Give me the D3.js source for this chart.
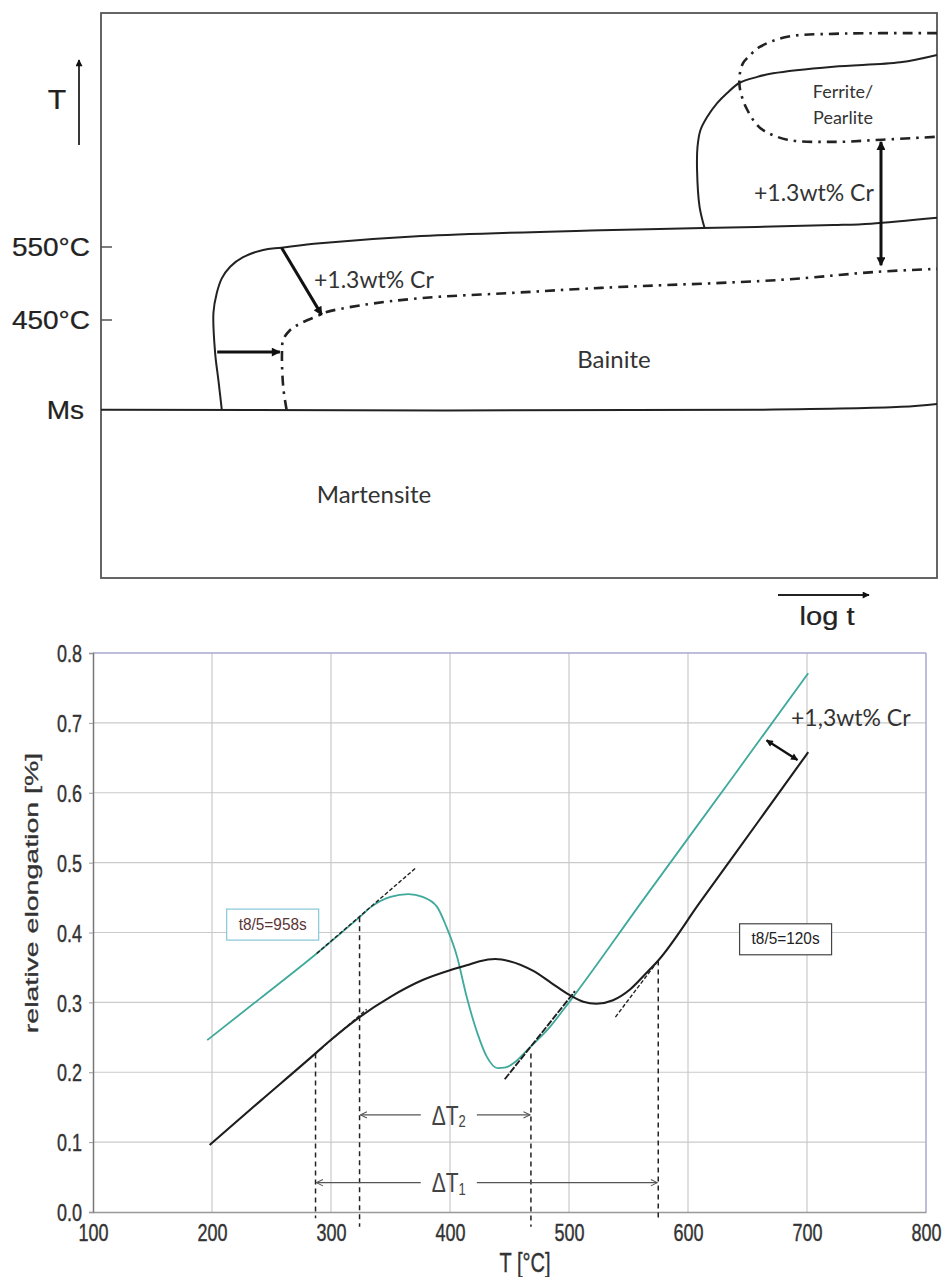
<!DOCTYPE html>
<html><head><meta charset="utf-8">
<script src="https://cdn.jsdelivr.net/npm/d3@7"></script>
<style>body{margin:0;background:#fff}</style>
</head><body>
<svg id="c" width="942" height="1277"></svg>
<script>
// ================= DATA =================
// --- Top: schematic CCT diagram, points are [log t (arbitrary 0-100), T (°C)] ---
const cctTempTicks = [550, 450];
const cctTempLabels = ["550°C", "450°C"];
const msTemp = 327;
const bainiteStart = [[14.45,327],[14.05,367],[13.65,405],[13.45,460],[13.85,487],[14.45,507],[15.45,523],[17.0,536],[19.4,546],[21.6,549],[26.2,555],[38.3,565],[59.8,573],[72.0,576],[87.6,580],[92.1,582],[100,590]];
const ferriteStart = [[72.2,576],[71.6,605],[71.3,655],[71.35,687],[71.7,710],[72.5,728],[73.7,747],[74.9,761],[76.4,775],[78.5,783],[80.4,788],[87.6,797],[95.6,803],[100,813]];
const bainiteStartCr = [[22.2,327],[21.8,358],[21.65,405],[21.8,423],[22.6,436],[23.8,445],[26.2,457],[26.7,460],[31.0,470],[38.3,480],[49.0,487],[59.8,494],[81.3,505],[92.8,516],[100,520]];
const ferriteStartCr = [[100,843],[87.6,842],[82.1,838],[78.8,824],[77.4,810],[76.8,802],[76.4,786],[76.4,769],[76.8,751],[77.3,738],[78.2,721],[79.2,710],[82.1,697],[87.6,694],[93.5,697],[100,701]];
const msLine = [[0,327],[78.5,327],[95.7,331],[100,335]];
const shiftBainiteLeft = [[13.9,406],[21.4,406]];
const shiftBainiteNose = [[21.6,549],[26.4,457]];
const shiftFerrite = [[93.3,694],[93.3,525]];

// --- Bottom: dilatometer curves, T (°C) vs relative elongation (%) ---
const xTicks = [100,200,300,400,500,600,700,800];
const yTicks = [0,0.1,0.2,0.3,0.4,0.5,0.6,0.7,0.8];
const temp958 = [196,240,288,324,334,350,365,377,389,397,406,414,423,431,440,447,455,465,484,500,562,640,701];
const elong958 = [0.246,0.305,0.370,0.422,0.437,0.451,0.455,0.451,0.437,0.408,0.365,0.308,0.256,0.222,0.206,0.207,0.215,0.232,0.265,0.300,0.446,0.628,0.771];
const temp120 = [198,240,287,299,324,350,377,400,414,425,438,450,470,485,500,512,523,537,551,565,575,610,660,701];
const elong120 = [0.096,0.158,0.227,0.245,0.279,0.308,0.332,0.346,0.353,0.359,0.362,0.359,0.345,0.328,0.311,0.301,0.298,0.303,0.318,0.342,0.360,0.443,0.561,0.658];
const tangents = [
  [[288,0.370],[371,0.492]],
  [[287,0.227],[330,0.290]],
  [[539,0.279],[575,0.360]]
];
const coolingTangent = [[446,0.190],[505,0.316]];
const markTemps = [287,324,468,575];
const markTops = [0.227,0.422,0.227,0.360];
const markBottoms = [-0.009,-0.021,-0.021,-0.009];
const deltaSubs = ["2","1"];
const deltaFrom = [324,287];
const deltaTo = [468,575];
const deltaLevel = [0.139,0.042];
const deltaLabelT = [399,399];
const crShift = [[666,0.675],[692,0.647]];

// ================= DRAW =================
const svg = d3.select("#c");
const ARIAL = "'Liberation Sans', Arial, sans-serif";
const CAL = "Lato, 'Open Sans', sans-serif";
const defs = svg.append("defs");
function triMarker(id, color, w, h){
  defs.append("marker").attr("id",id).attr("viewBox","0 -5 10 10")
    .attr("refX",9).attr("refY",0).attr("markerWidth",w).attr("markerHeight",h)
    .attr("markerUnits","userSpaceOnUse").attr("orient","auto-start-reverse")
    .append("path").attr("d","M0,-5L10,0L0,5Z").attr("fill",color);
}
triMarker("triBig","#111",11,9);
triMarker("triSmall","#111",8,7);
defs.append("marker").attr("id","chev").attr("viewBox","0 -5 10 10")
  .attr("refX",9).attr("refY",0).attr("markerWidth",8).attr("markerHeight",8)
  .attr("markerUnits","userSpaceOnUse").attr("orient","auto-start-reverse")
  .append("path").attr("d","M1,-4L9,0L1,4").attr("fill","none").attr("stroke","#555").attr("stroke-width",1.3);

// ---------- Top chart ----------
const xTop = d3.scaleLinear().domain([0,100]).range([101,937]);
const yTop = d3.scaleLinear().domain([450,550]).range([320,247]);
const gTop = svg.append("g");
const lineTop = d3.line().x(d=>xTop(d[0])).y(d=>yTop(d[1])).curve(d3.curveCatmullRom.alpha(0.5));

gTop.append("rect").attr("x",101).attr("y",13).attr("width",836).attr("height",565)
  .attr("fill","none").attr("stroke","#555").attr("stroke-width",1.8);

function axisText(g, x, y, s, str, anchor){
  return g.append("text").attr("transform",`translate(${x},${y}) scale(1.12,1)`).attr("dy","0.36em")
    .attr("text-anchor",anchor).attr("font-family",ARIAL).attr("font-size",s).attr("fill","#222")
    .attr("stroke","#222").attr("stroke-width",0.25).text(str);
}
cctTempTicks.forEach((t,i)=>{
  gTop.append("line").attr("x1",101).attr("x2",112).attr("y1",yTop(t)).attr("y2",yTop(t))
    .attr("stroke","#555").attr("stroke-width",1.5);
  axisText(gTop, 90, yTop(t), 25, cctTempLabels[i], "end");
});
axisText(gTop, 84, yTop(msTemp), 25, "Ms", "end");
axisText(gTop, 57, 99, 27, "T", "middle");
gTop.append("line").attr("x1",79).attr("x2",79).attr("y1",145).attr("y2",60)
  .attr("stroke","#222").attr("stroke-width",1.8).attr("marker-end","url(#triSmall)");
axisText(gTop, 827, 616, 26, "log t", "middle");
gTop.append("line").attr("x1",778).attr("x2",869).attr("y1",595).attr("y2",595)
  .attr("stroke","#222").attr("stroke-width",1.8).attr("marker-end","url(#triSmall)");

[msLine, bainiteStart, ferriteStart].forEach(d=>{
  gTop.append("path").attr("d",lineTop(d)).attr("fill","none").attr("stroke","#222").attr("stroke-width",2);
});
[bainiteStartCr, ferriteStartCr].forEach(d=>{
  gTop.append("path").attr("d",lineTop(d)).attr("fill","none").attr("stroke","#222")
    .attr("stroke-width",2.6).attr("stroke-dasharray","10,6,2.5,6");
});
const straight = d3.line().x(d=>xTop(d[0])).y(d=>yTop(d[1]));
gTop.append("path").attr("d",straight(shiftBainiteLeft)).attr("stroke","#111").attr("stroke-width",3).attr("marker-end","url(#triBig)");
gTop.append("path").attr("d",straight(shiftBainiteNose)).attr("stroke","#111").attr("stroke-width",3).attr("marker-end","url(#triBig)");
gTop.append("path").attr("d",straight(shiftFerrite)).attr("stroke","#111").attr("stroke-width",3)
  .attr("marker-end","url(#triBig)").attr("marker-start","url(#triBig)");

const topLabels = [
  {t:"Ferrite/", x:843, y:92, s:18, a:"middle"},
  {t:"Pearlite", x:843, y:118, s:18, a:"middle"},
  {t:"+1.3wt% Cr", x:754, y:193, s:23, a:"start"},
  {t:"+1.3wt% Cr", x:314, y:280, s:23, a:"start"},
  {t:"Bainite", x:614, y:360, s:24, a:"middle"},
  {t:"Martensite", x:374, y:495, s:24, a:"middle"}
];
topLabels.forEach(l=>{
  gTop.append("text").attr("x",l.x).attr("y",l.y).attr("dy","0.35em").attr("text-anchor",l.a)
    .attr("font-family",CAL).attr("font-size",l.s).attr("fill","#333").text(l.t);
});

// ---------- Bottom chart ----------
const xB = d3.scaleLinear().domain([100,800]).range([93,926]);
const yB = d3.scaleLinear().domain([0,0.8]).range([1212,653]);
const bot = svg.append("g");
const SY = 1.35;

xTicks.filter(t=>t>100 && t<800).forEach(t=>{
  bot.append("line").attr("x1",xB(t)).attr("x2",xB(t)).attr("y1",yB(0)).attr("y2",yB(0.8))
    .attr("stroke","#cacaca").attr("stroke-width",1.2);
});
yTicks.filter(t=>t>0 && t<0.8).forEach(t=>{
  bot.append("line").attr("x1",xB(100)).attr("x2",xB(800)).attr("y1",yB(t)).attr("y2",yB(t))
    .attr("stroke","#cacaca").attr("stroke-width",1.2);
});
bot.append("line").attr("x1",xB(100)).attr("x2",xB(800)).attr("y1",yB(0.8)).attr("y2",yB(0.8)).attr("stroke","#a8a8d0").attr("stroke-width",1.5);
bot.append("line").attr("x1",xB(800)).attr("x2",xB(800)).attr("y1",yB(0.8)).attr("y2",yB(0)).attr("stroke","#a8a8d0").attr("stroke-width",1.5);

const yAxis = bot.append("g").attr("transform",`translate(${xB(100)},0)`)
  .call(d3.axisLeft(yB).tickValues(yTicks).tickFormat(d3.format(".1f")).tickSize(4).tickPadding(7));
yAxis.select(".domain").attr("stroke","#777").attr("stroke-width",1.5);
yAxis.selectAll(".tick line").attr("stroke","#999");
yAxis.selectAll("text").attr("font-family",ARIAL).attr("font-size",18).attr("fill","#333")
  .attr("stroke","#333").attr("stroke-width",0.3)
  .attr("dy","0.358em").attr("transform",`scale(1,${SY})`);

const xAxis = bot.append("g").attr("transform",`translate(0,${yB(0)})`)
  .call(d3.axisBottom(xB).tickValues(xTicks).tickSize(0).tickPadding(0));
xAxis.select(".domain").attr("stroke","#999").attr("stroke-width",1.5);
xAxis.selectAll("text").attr("font-family",ARIAL).attr("font-size",18).attr("fill","#333")
  .attr("stroke","#333").attr("stroke-width",0.3)
  .attr("y",null).attr("dy","0.358em").attr("transform",`translate(0,20) scale(1,${SY})`);

bot.append("text").attr("transform",`translate(525,1262) scale(1,${SY})`).attr("dy","0.358em")
  .attr("text-anchor","middle").attr("font-family",ARIAL).attr("font-size",20).attr("fill","#333")
  .attr("stroke","#333").attr("stroke-width",0.3).text("T [°C]");
bot.append("text").attr("transform",`translate(31,893) rotate(-90) scale(1.5,1)`).attr("dy","0.358em")
  .attr("text-anchor","middle").attr("font-family",ARIAL).attr("font-size",19).attr("fill","#333")
  .attr("stroke","#333").attr("stroke-width",0.3).text("relative elongation [%]");

const lineB = d3.line().x(d=>xB(d[0])).y(d=>yB(d[1])).curve(d3.curveMonotoneX);
const s958 = temp958.map((t,i)=>[t,elong958[i]]);
const s120 = temp120.map((t,i)=>[t,elong120[i]]);
bot.append("path").attr("d",lineB(s958)).attr("fill","none").attr("stroke","#3fa99b").attr("stroke-width",1.8);
bot.append("path").attr("d",lineB(s120)).attr("fill","none").attr("stroke","#1e1e1e").attr("stroke-width",2.1);

const straightB = d3.line().x(d=>xB(d[0])).y(d=>yB(d[1]));
tangents.forEach(d=>{
  bot.append("path").attr("d",straightB(d)).attr("fill","none").attr("stroke","#222")
    .attr("stroke-width",1.4).attr("stroke-dasharray","4,2");
});
bot.append("path").attr("d",straightB(coolingTangent)).attr("fill","none").attr("stroke","#1e1e1e")
  .attr("stroke-width",1.9).attr("stroke-dasharray","7,1.5");
markTemps.forEach((t,i)=>{
  bot.append("line").attr("x1",xB(t)).attr("x2",xB(t)).attr("y1",yB(markTops[i])).attr("y2",yB(markBottoms[i]))
    .attr("stroke","#222").attr("stroke-width",1.5).attr("stroke-dasharray","5,4");
});

deltaSubs.forEach((s,i)=>{
  const y = yB(deltaLevel[i]);
  const txt = bot.append("text").attr("transform",`translate(${xB(deltaLabelT[i])},${y}) scale(1,1.3)`)
    .attr("dy","0.358em").attr("text-anchor","middle").attr("font-family",ARIAL).attr("font-size",21).attr("fill","#444");
  txt.append("tspan").text("ΔT");
  txt.append("tspan").attr("font-size",13).attr("dy","0.15em").text(s);
  const bb = txt.node().getBBox();
  const cx = xB(deltaLabelT[i]);
  const left = cx + bb.x - 11, right = cx + bb.x + bb.width + 11;
  bot.append("line").attr("x1",left).attr("x2",xB(deltaFrom[i])+1).attr("y1",y).attr("y2",y)
    .attr("stroke","#555").attr("stroke-width",1.4).attr("marker-end","url(#chev)");
  bot.append("line").attr("x1",right).attr("x2",xB(deltaTo[i])-1).attr("y1",y).attr("y2",y)
    .attr("stroke","#555").attr("stroke-width",1.4).attr("marker-end","url(#chev)");
});

bot.append("path").attr("d",straightB(crShift)).attr("stroke","#111").attr("stroke-width",2.4)
  .attr("marker-end","url(#triSmall)").attr("marker-start","url(#triSmall)");
bot.append("text").attr("x",791).attr("y",726).attr("font-family",CAL).attr("font-size",23).attr("fill","#333").text("+1,3wt% Cr");

// label boxes
const boxes = [
  {t:"t8/5=958s", T:251, e:0.412, stroke:"#86c8d8", fill:"#5a3535"},
  {t:"t8/5=120s", T:682, e:0.391, stroke:"#444", fill:"#222"}
];
boxes.forEach(b=>{
  const cx = xB(b.T), cy = yB(b.e);
  bot.append("rect").attr("x",cx-46).attr("y",cy-15).attr("width",92).attr("height",31)
    .attr("fill","#fff").attr("stroke",b.stroke).attr("stroke-width",1.2);
  bot.append("text").attr("transform",`translate(${cx},${cy}) scale(1,1.2)`).attr("dy","0.358em")
    .attr("text-anchor","middle").attr("font-family",ARIAL).attr("font-size",13).attr("fill",b.fill)
    .attr("textLength",68).attr("lengthAdjust","spacingAndGlyphs").text(b.t);
});
</script>
</body></html>
